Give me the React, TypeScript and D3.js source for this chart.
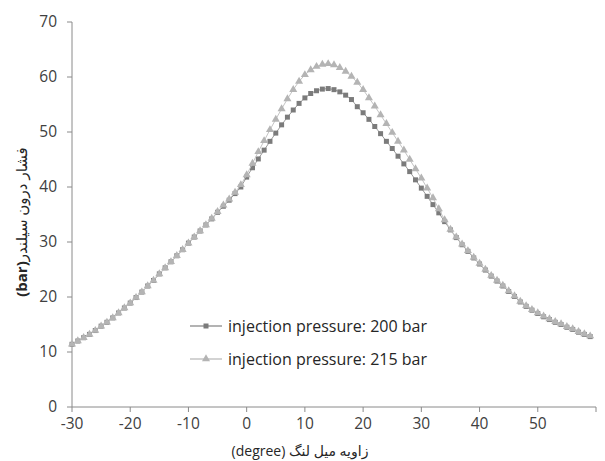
import * as d3 from 'd3';

// crank angle (degree) for every sample
const crankAngle = [
  -30, -29, -28, -27, -26, -25, -24, -23, -22, -21,
  -20, -19, -18, -17, -16, -15, -14, -13, -12, -11,
  -10, -9, -8, -7, -6, -5, -4, -3, -2, -1,
  0, 1, 2, 3, 4, 5, 6, 7, 8, 9,
  10, 11, 12, 13, 14, 15, 16, 17, 18, 19,
  20, 21, 22, 23, 24, 25, 26, 27, 28, 29,
  30, 31, 32, 33, 34, 35, 36, 37, 38, 39,
  40, 41, 42, 43, 44, 45, 46, 47, 48, 49,
  50, 51, 52, 53, 54, 55, 56, 57, 58, 59,
];

// cylinder pressure (bar), injection pressure 200 bar
const pressure200 = [
  11.4, 12.0, 12.6, 13.2, 13.9, 14.7, 15.4, 16.2, 17.1, 18.0,
  18.9, 19.9, 20.9, 22.0, 23.0, 24.2, 25.3, 26.4, 27.5, 28.6,
  29.8, 30.9, 32.0, 33.1, 34.2, 35.4, 36.5, 37.6, 38.8, 40.0,
  41.8, 43.5, 45.1, 46.7, 48.3, 49.8, 51.3, 52.7, 54.0, 55.2,
  56.2, 57.0, 57.5, 57.8, 57.9, 57.7, 57.3, 56.7, 55.9, 54.6,
  53.5, 52.3, 51.0, 49.7, 48.3, 47.0, 45.6, 44.2, 42.8, 41.3,
  39.8, 38.3, 36.8, 35.3, 33.7, 32.2, 30.8, 29.5, 28.3, 27.1,
  26.0, 24.9, 23.8, 22.9, 22.0, 21.0, 20.1, 19.1, 18.3, 17.6,
  17.0, 16.4, 15.9, 15.4, 15.0, 14.5, 14.1, 13.6, 13.2, 12.8,
];

// cylinder pressure (bar), injection pressure 215 bar
const pressure215 = [
  11.4, 12.0, 12.6, 13.2, 13.9, 14.7, 15.4, 16.2, 17.1, 18.0,
  18.9, 19.9, 20.9, 22.0, 23.0, 24.2, 25.3, 26.4, 27.5, 28.6,
  29.8, 30.9, 32.0, 33.1, 34.3, 35.5, 36.7, 37.8, 39.0, 40.4,
  42.2, 44.3, 46.4, 48.4, 50.4, 52.3, 54.2, 56.0, 57.7, 59.2,
  60.4, 61.3, 61.9, 62.3, 62.4, 62.2, 61.7, 61.0, 60.1, 59.0,
  57.7, 56.2, 54.7, 53.1, 51.5, 49.9, 48.3, 46.7, 45.0, 43.3,
  41.6, 39.8, 38.0, 36.0, 34.0, 32.3, 30.9, 29.6, 28.4, 27.2,
  26.1, 25.0, 23.9, 23.0, 22.1, 21.1, 20.2, 19.2, 18.4, 17.7,
  17.1, 16.5, 16.0, 15.5, 15.1, 14.6, 14.2, 13.7, 13.3, 12.9,
];

const xTicks = [-30, -20, -10, 0, 10, 20, 30, 40, 50, 60];
const xTickLabels = ['-30', '-20', '-10', '0', '10', '20', '30', '40', '50', ''];
const yTicks = [0, 10, 20, 30, 40, 50, 60, 70];
const seriesNames = ['injection pressure: 200 bar', 'injection pressure: 215 bar'];

const W = 605;
const H = 461;
const font = "'Open Sans', 'DejaVu Sans', sans-serif";
const axisColor = '#8a8a8a';
const textColor = '#404040';

export default function App() {
  const x = d3.scaleLinear().domain([-30, 60]).range([72, 596]);
  const y = d3.scaleLinear().domain([0, 70]).range([407, 22]);

  const line = d3
    .line<number>()
    .x((_, i) => x(crankAngle[i]))
    .y((d) => y(d));

  const square = d3.symbol(d3.symbolSquare, 25)();
  const triangle = d3.symbol(d3.symbolTriangle, 28)();

  const series = [
    { name: seriesNames[0], values: pressure200, marker: square, fill: '#7b7b7b', stroke: '#9a9a9a' },
    { name: seriesNames[1], values: pressure215, marker: triangle, fill: '#b4b4b4', stroke: '#c4c4c4' },
  ];

  return (
    <svg
      width={W}
      height={H}
      style={{ position: 'absolute', left: 0, top: 0, background: '#fff' }}
      fontFamily={font}
    >
      <rect width={W} height={H} fill="#fff" />

      {/* axes */}
      <line x1={72} x2={72} y1={y(70)} y2={y(0)} stroke={axisColor} />
      <line x1={72} x2={x(60)} y1={y(0)} y2={y(0)} stroke={axisColor} />
      {yTicks.map((t) => (
        <g key={'y' + t}>
          <line x1={67} x2={72} y1={y(t)} y2={y(t)} stroke={axisColor} />
          <text x={57} y={y(t)} dy="0.35em" textAnchor="end" fontSize={15.5} fill={textColor}>
            {t}
          </text>
        </g>
      ))}
      {xTicks.map((t, i) => (
        <g key={'x' + t}>
          <line x1={x(t)} x2={x(t)} y1={y(0)} y2={y(0) + 5} stroke={axisColor} />
          <text x={x(t)} y={429} textAnchor="middle" fontSize={15.5} fill={textColor}>
            {xTickLabels[i]}
          </text>
        </g>
      ))}

      {/* series */}
      {series.map((s) => (
        <g key={s.name}>
          <path d={line(s.values) ?? ''} fill="none" stroke={s.stroke} strokeWidth={1} />
          {s.values.map((v, i) => (
            <path key={i} d={s.marker} transform={`translate(${x(crankAngle[i])},${y(v)})`} fill={s.fill} />
          ))}
        </g>
      ))}

      {/* legend */}
      {series.map((s, i) => (
        <g key={'lg' + i} transform={`translate(0,${326 + i * 33})`}>
          <line x1={190} x2={222} y1={0} y2={0} stroke={s.stroke} strokeWidth={1.5} />
          <path d={s.marker} transform="translate(206,0)" fill={s.fill} />
          <text x={228} y={0} dy="0.35em" fontSize={16} fill="#262626">
            {s.name}
          </text>
        </g>
      ))}

      {/* axis titles */}
      <text x={300} y={456} textAnchor="middle" fontSize={14} fill="#262626">
        (degree) زاویه میل لنگ
      </text>
      <text transform="translate(27,222) rotate(-90)" textAnchor="middle" fontSize={15} fill="#262626">
        <tspan fontWeight="bold">(bar)</tspan>
        <tspan>فشار درون سیلندر</tspan>
      </text>
    </svg>
  );
}
